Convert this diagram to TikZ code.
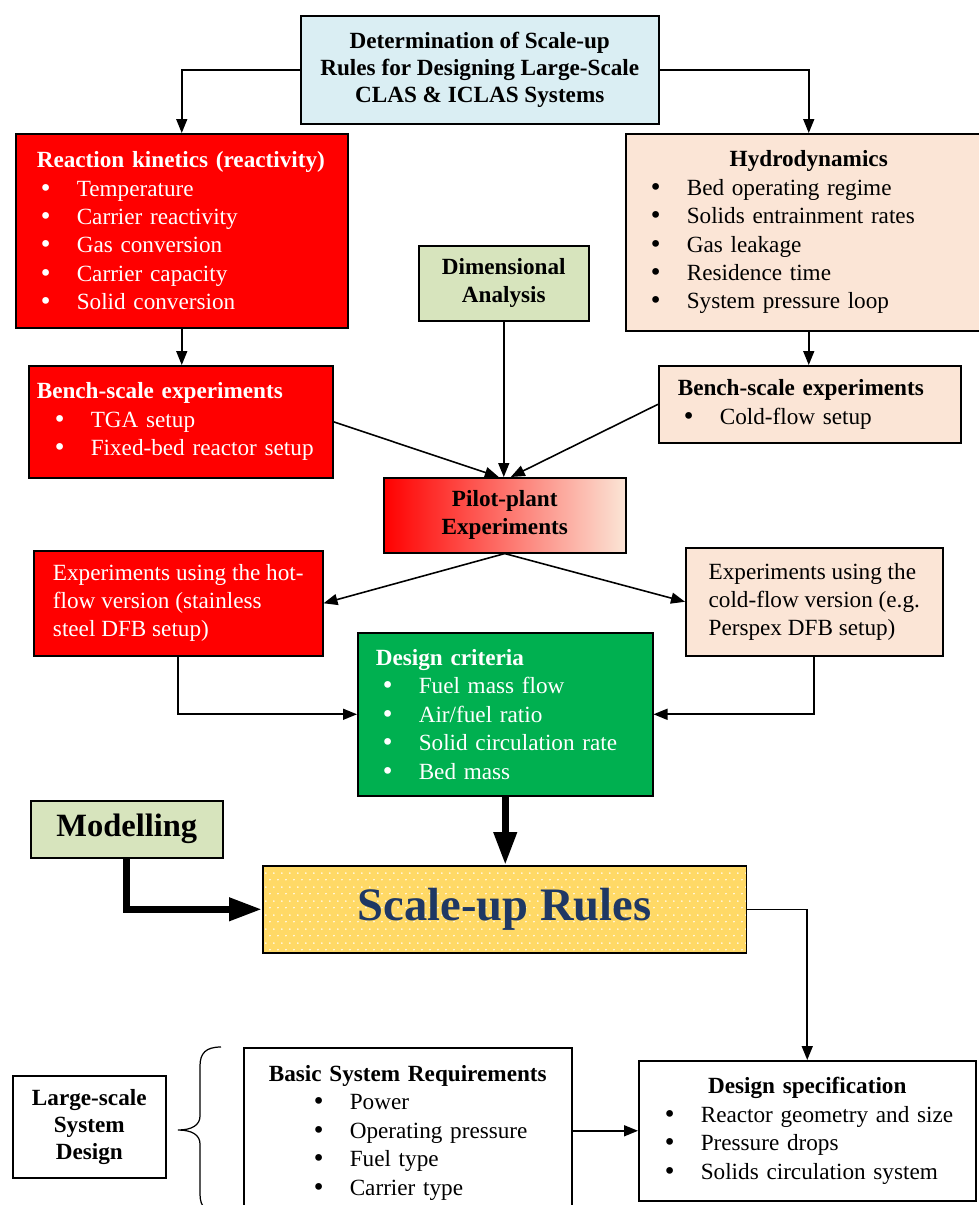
\documentclass[tikz,border=0pt]{standalone}
\usepackage{fontspec}
\setmainfont{Liberation Serif}
\newfontfamily\dotfont{DejaVu Sans}
\usepackage{xcolor}
\usetikzlibrary{arrows.meta,positioning,calc,patterns.meta}
\definecolor{cRed}{HTML}{FF0000}
\definecolor{lPeach}{HTML}{FBE5D6}
\definecolor{lSky}{HTML}{DAEEF3}
\definecolor{lOlive}{HTML}{D7E4BD}
\definecolor{cGreen}{HTML}{00B050}
\definecolor{cGold}{HTML}{FFD966}
\definecolor{inkNavy}{HTML}{1F3864}

% bullet line, title lines
\newcommand{\bdot}{{\dotfont\textbullet}}
\newcommand{\bitem}[2][0.46cm]{\hspace*{#1}\makebox[0.76cm][l]{\bdot}#2}
\newcommand{\ltitle}[2][0.42cm]{\hspace*{#1}\textbf{#2}}
\newcommand{\ctitle}[1]{\makebox[\linewidth]{\textbf{#1}}}

% staggered white dots for the rules box
\tikzdeclarepattern{
  name=goldDots,
  type=uncolored,
  bounding box={(0pt,0pt) and (4.5pt,8pt)},
  tile size={(4.5pt,8pt)},
  code={
    \pgfpathcircle{\pgfpoint{1.125pt}{2pt}}{0.5pt}
    \pgfpathcircle{\pgfpoint{3.375pt}{6pt}}{0.5pt}
    \pgfusepath{fill}
  }
}

\begin{document}
\begin{tikzpicture}[x=0.02cm, y=-0.02cm,
  box/.style={draw=black, line width=0.9pt, anchor=north west, inner sep=0pt,
              font=\fontsize{13.2}{16.2}\selectfont},
  listbox/.style={box, align=left},
  redbox/.style={fill=cRed, text=white},
  peachbox/.style={fill=lPeach, text=black},
  link/.style={line width=0.9pt, -{Triangle[length=0.28cm,width=0.22cm]}},
  fatlink/.style={line width=0.14cm, -{Triangle[length=0.66cm,width=0.44cm]}}]
  \useasboundingbox (0,0) rectangle (979,1205);

  % top row
  \node[box, fill=lSky, align=center, minimum width=7.16cm, minimum height=2.16cm,
        font=\fontsize{13.2}{15.3}\selectfont\bfseries] (goal) at (300,15)
    {Determination of Scale-up\\Rules for Designing Large-Scale\\CLAS \& ICLAS Systems};

  \node[listbox, redbox, minimum width=6.64cm, text width=6.64cm, minimum height=3.88cm] (kin) at (15,133)
    {\ltitle{Reaction kinetics (reactivity)}\\
     \bitem{Temperature}\\
     \bitem{Carrier reactivity}\\
     \bitem{Gas conversion}\\
     \bitem{Carrier capacity}\\
     \bitem{Solid conversion}};

  \node[listbox, peachbox, minimum width=7.32cm, text width=7.32cm, minimum height=3.94cm] (hydro) at (625,133)
    {\ctitle{Hydrodynamics}\\
     \bitem{Bed operating regime}\\
     \bitem{Solids entrainment rates}\\
     \bitem{Gas leakage}\\
     \bitem{Residence time}\\
     \bitem{System pressure loop}};

  \node[box, fill=lOlive, align=center, minimum width=3.4cm, minimum height=1.5cm,
        font=\fontsize{13.2}{15.8}\selectfont\bfseries] (dim) at (418,245)
    {Dimensional\\Analysis};

  % bench scale
  \node[listbox, redbox, minimum width=6.08cm, text width=6.08cm, minimum height=2.24cm] (benchL) at (28,365)
    {\ltitle[0.16cm]{Bench-scale experiments}\\
     \bitem[0.48cm]{TGA setup}\\
     \bitem[0.48cm]{Fixed-bed reactor setup}};

  \node[listbox, peachbox, minimum width=6.04cm, text width=6.04cm, minimum height=1.54cm] (benchR) at (658,365)
    {\ltitle[0.38cm]{Bench-scale experiments}\\
     \bitem{Cold-flow setup}};

  \node[box, left color=cRed, right color=lPeach, align=center, minimum width=4.84cm, minimum height=1.5cm,
        font=\fontsize{13.2}{15.8}\selectfont\bfseries] (pilot) at (383,477)
    {Pilot-plant\\Experiments};

  % pilot plant versions
  \node[box, redbox, align=left, minimum width=5.78cm, minimum height=2.1cm,
        font=\fontsize{13.2}{15.9}\selectfont] (hot) at (33,550)
    {Experiments using the hot-\\flow version (stainless\\steel DFB setup)};

  \node[box, peachbox, align=left, minimum width=5.14cm, minimum height=2.16cm,
        font=\fontsize{13.2}{15.9}\selectfont] (cold) at (685,547)
    {Experiments using the\\cold-flow version (e.g.\\Perspex DFB setup)};

  \node[listbox, fill=cGreen, text=white, minimum width=5.9cm, text width=5.9cm, minimum height=3.26cm] (crit) at (357,632)
    {\ltitle[0.36cm]{Design criteria}\\
     \bitem{Fuel mass flow}\\
     \bitem{Air/fuel ratio}\\
     \bitem{Solid circulation rate}\\
     \bitem{Bed mass}};

  % rules
  \node[box, fill=lOlive, minimum width=3.84cm, minimum height=1.14cm,
        font=\fontsize{18.5}{20}\selectfont\bfseries] (model) at (30,800) {Modelling};

  \node[box, preaction={fill=cGold}, pattern=goldDots, pattern color=white,
        text=inkNavy, minimum width=9.68cm, minimum height=1.74cm,
        font=\fontsize{26.5}{28}\selectfont\bfseries] (rules) at (262,865) {Scale-up Rules};

  % system design
  \node[box, fill=white, align=center, minimum width=3.06cm, minimum height=2.04cm,
        font=\fontsize{13.2}{15.3}\selectfont\bfseries] (lsd) at (12,1075)
    {Large-scale\\System\\Design};

  \node[listbox, fill=white, minimum width=6.56cm, text width=6.56cm, minimum height=3.4cm] (basic) at (243,1047)
    {\ctitle{Basic System Requirements}\\
     \bitem[1.36cm]{Power}\\
     \bitem[1.36cm]{Operating pressure}\\
     \bitem[1.36cm]{Fuel type}\\
     \bitem[1.36cm]{Carrier type}};

  \node[listbox, fill=white, minimum width=6.74cm, text width=6.74cm, minimum height=2.8cm] (spec) at (638,1060)
    {\ctitle{Design specification}\\
     \bitem[0.48cm]{Reactor geometry and size}\\
     \bitem[0.48cm]{Pressure drops}\\
     \bitem[0.48cm]{Solids circulation system}};

  % brace
  \draw[line width=0.7pt] (221,1047) .. controls (206,1047) and (200,1053) .. (200,1066)
    -- (200,1116) .. controls (200,1125) and (192,1130) .. (178,1130)
    .. controls (192,1130) and (200,1135) .. (200,1144)
    -- (200,1194) .. controls (200,1207) and (206,1213) .. (221,1213);

  % connectors
  \draw[link] (goal.west) -| (kin.north);
  \draw[link] (goal.east) -| (hydro.north);
  \draw[link] (kin.south) -- (kin.south |- benchL.north);
  \draw[link] (hydro.south) -- (hydro.south |- benchR.north);
  \draw[link] (dim.south) -- (dim.south |- pilot.north);
  \draw[link] (benchL.east) -- ([xshift=-0.12cm]pilot.north);
  \draw[link] (benchR.west) -- ([xshift=0.12cm]pilot.north);
  \draw[link] (pilot.south) -- (hot.east);
  \draw[link] (pilot.south) -- (cold.west);
  \draw[link] (hot.south) |- (crit.west);
  \draw[link] (cold.south) |- (crit.east);
  \draw[fatlink] (crit.south) -- (crit.south |- rules.north);
  \draw[fatlink] (model.south) |- (rules.west);
  \draw[link] (rules.east) -| (spec.north);
  \draw[link] (basic.east |- spec.west) -- (spec.west);
\end{tikzpicture}
\end{document}
